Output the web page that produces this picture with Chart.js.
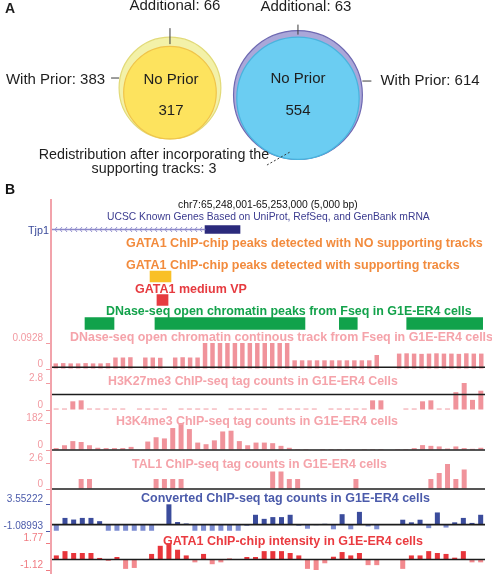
<!DOCTYPE html>
<html>
<head>
<meta charset="utf-8">
<title>GATA1 peaks: Venn counts and browser tracks</title>
<script src="https://cdn.jsdelivr.net/npm/chart.js@4.4.1/dist/chart.umd.min.js"></script>
<style>
  body { margin: 0; background: #fff; }
  #page { position: relative; width: 492px; height: 574px; overflow: hidden; }
  #page canvas { position: absolute; left: 0; }
  .lbl { position: absolute; white-space: nowrap; line-height: 1; }
</style>
</head>
<body>
<div id="page"></div>
<script>
// ---------- panel A: peak counts ----------
const withPrior = [383, 614];
const noPrior = [317, 554];
const additional = [66, 63];
const redistributed = 3;

// ---------- panel B: region chr7:65,248,001-65,253,000 ----------
const regionStart = 65248000;
const regionEnd = 65253000;
const geneName = 'Tjp1';
const tjp1Exon = [65249767, 65250171];
const gataNoSupport = [];
const gataSupport = [[65249132, 65249374]];
const gataVP = [[65249212, 65249340]];
const dnasePeaks = [[65248381, 65248716], [65249189, 65250921], [65251318, 65251525], [65252096, 65252973]];

// track values (one per bin across the region)
const dnaseVals = [0.020,0.021,0.020,0.020,0.021,0.020,0.020,0.021,
  0.041,0.041,0.042,0,0.041,0.041,0.040,0,0.041,0.042,0.041,0.041,
  0.0928,0.0928,0.0928,0.0928,0.0928,0.0928,0.0928,0.0928,0.0928,0.0928,0.0928,0.0928,
  0.031,0.031,0.031,0.031,0.031,0.031,0.031,0.031,0.031,0.031,0.031,
  0.05,0,0,
  0.055,0.056,0.055,0.054,0.055,0.056,0.055,0.055,0.054,0.056,0.055,0.055];
const h3k27Vals = [0.15,0.15,0.9,1.0,
  0.15,0.15,0.15,0.15,0.15,0,0.15,0.15,0.15,0.15,0,0.15,0.15,0.15,0.15,0.15,0,0.15,0.15,0.15,
  0.15,0.15,0,0.15,0.15,0.15,0.15,0.15,0,0.15,0.15,0.15,0.15,0.15,
  1.0,1.0,0,0,0.15,0.15,0.9,1.0,0.15,0.15,1.85,2.8,1.05,2.0];
const h3k4Vals = [13,32,60,54,32,15,13,13,13,21,
  0,57,86,78,148,182,141,50,39,65,
  125,130,60,32,50,50,46,28,15,6,
  6,0,6,6,6,6,0,6,6,6,
  0,6,6,13,33,28,24,10,24,13,
  8,15];
const tal1Vals = [0,0,0,1.0,1.0,0,0,0,0,0,
  0,0,1.0,1.0,1.0,1.0,0,0,0,0,
  0,0,0,0,0,0,1.75,1.75,1.0,1.0,
  0,0,0,0,0,0,1.0,0,0,0,
  0,0,0,0,0,1.0,1.6,2.5,1.0,1.95,
  0,0];
const convVals = [-1.05,1.16,0.88,1.16,1.16,0.6,-1.05,-1.05,-1.05,-1.05,
  -1.05,-1.05,0,3.5,0.45,0.2,-1.05,-1.05,-1.05,-1.05,
  -1.05,-1.05,-0.2,1.7,1.0,1.3,1.3,1.7,-0.2,-0.7,
  -0.1,0.15,-0.8,1.8,-0.8,2.2,-0.3,-0.8,0,0,
  0.85,0.4,0.85,-0.6,2.1,-0.5,0.4,1.16,0.3,1.7];
const gataVals = [0.44,0.9,0.7,0.7,0.7,0.17,-0.15,0.27,-1.0,-0.9,
  0,0.6,1.47,1.75,1.05,0.44,-0.3,0.6,-0.5,-0.3,
  0.1,0,0.27,0.27,0.9,0.9,0.9,0.7,0.44,-1.0,
  -1.15,-0.4,0.3,0.8,0.44,0.7,-0.6,-0.6,0,0,
  -1.0,0.44,0.44,0.9,0.7,0.6,0.2,0.9,-0.3,-0.3];

Chart.defaults.font.family = '"Liberation Sans", Arial, sans-serif';
const page = document.getElementById('page');
const mctx = document.createElement('canvas').getContext('2d');

function makeCanvas(top, height) {
  const c = document.createElement('canvas');
  c.width = 492; c.height = height;
  c.style.top = top + 'px';
  page.appendChild(c);
  return c;
}

function addLabel(text, o) {
  const weight = o.bold ? 'bold' : 'normal';
  let size = o.size;
  if (!size) {
    mctx.font = weight + ' 100px "Liberation Sans"';
    size = 100 * o.w / mctx.measureText(text).width;
  }
  const d = document.createElement('div');
  d.className = 'lbl';
  d.textContent = text;
  d.style.fontFamily = '"Liberation Sans", Arial, sans-serif';
  d.style.fontWeight = weight;
  d.style.fontSize = size.toFixed(2) + 'px';
  d.style.color = o.color;
  d.style.left = o.x + 'px';
  d.style.top = (o.y - 0.5 * size) + 'px';
  page.appendChild(d);
  return size;
}

// ---------- panel A: bubble chart ----------
const R = n => 2.6 * Math.sqrt(n);
const setY = [0.022, -0.056];        // small vertical shift of each pair
const fills = [['#f3f1a8', '#fde35e'], ['#aaa7d9', '#6bcdf2']];
const edges = [['#e2da78', '#f0c44a'], ['#6e69b2', '#48b4de']];
const bubbles = [], bFill = [], bEdge = [];
withPrior.forEach((tot, i) => {
  const ro = R(tot), ri = R(noPrior[i]);
  bubbles.push({ x: i, y: setY[i], r: ro });
  bubbles.push({ x: i, y: setY[i] - (ro - ri) / 90, r: ri });
  bFill.push(fills[i][0], fills[i][1]);
  bEdge.push(edges[i][0], edges[i][1]);
});

const vennText = {
  id: 'vennText',
  afterDatasetsDraw(chart) {
    const ctx = chart.ctx;
    const pts = chart.getDatasetMeta(0).data;
    ctx.save();
    ctx.fillStyle = '#1e1e1e';
    ctx.strokeStyle = '#3a3a3a';
    ctx.lineWidth = 1;
    ctx.textBaseline = 'middle';
    ctx.font = 'bold 14px "Liberation Sans"';
    ctx.textAlign = 'left';
    ctx.fillText('A', 5, 9);
    ctx.font = '15px "Liberation Sans"';
    const line = (x1, y1, x2, y2) => { ctx.beginPath(); ctx.moveTo(x1, y1); ctx.lineTo(x2, y2); ctx.stroke(); };

    // left pair
    let o = pts[0], r = R(withPrior[0]);
    ctx.textAlign = 'center';
    ctx.fillText('Additional: ' + additional[0], o.x + 5, o.y - r - 31);
    line(o.x, o.y - r - 9, o.x, o.y - r + 7);
    ctx.fillText('No Prior', o.x + 1, o.y - 8);
    ctx.fillText(String(noPrior[0]), o.x + 1, o.y + 23);
    ctx.textAlign = 'right';
    ctx.fillText('With Prior: ' + withPrior[0], o.x - r - 14, o.y - 8);
    line(o.x - r - 8, o.y - 10, o.x - r, o.y - 10);

    // right pair
    o = pts[2]; r = R(withPrior[1]);
    ctx.textAlign = 'center';
    ctx.fillText('Additional: ' + additional[1], o.x + 8, o.y - r - 24);
    line(o.x, o.y - r - 6, o.x, o.y - r + 4);
    ctx.fillText('No Prior', o.x, o.y - 16);
    ctx.fillText(String(noPrior[1]), o.x, o.y + 16);
    ctx.textAlign = 'left';
    ctx.fillText('With Prior: ' + withPrior[1], o.x + r + 18, o.y - 14);
    line(o.x + r, o.y - 14, o.x + r + 9, o.y - 14);

    ctx.textAlign = 'center';
    ctx.font = '14.3px "Liberation Sans"';
    ctx.fillText('Redistribution after incorporating the', o.x - 144, o.y + 60);
    ctx.fillText('supporting tracks: ' + redistributed, o.x - 144, o.y + 74);
    ctx.setLineDash([2, 2]);
    line(o.x - 31, o.y + 70, o.x - 8, o.y + 57);
    ctx.restore();
  }
};

new Chart(makeCanvas(0, 180), {
  type: 'bubble',
  data: { datasets: [{ data: bubbles, backgroundColor: bFill, borderColor: bEdge, borderWidth: 1.2, clip: false }] },
  options: {
    responsive: false, animation: false, events: [],
    layout: { padding: 0, autoPadding: false },
    plugins: { legend: { display: false }, tooltip: { enabled: false } },
    scales: {
      x: { type: 'linear', min: -1.328, max: 2.516, display: false },
      y: { type: 'linear', min: -1, max: 1, display: false }
    }
  },
  plugins: [vennText]
});

// ---------- panel B: gene and peak rows ----------
const rows = ['gene', 'noSupport', 'support', 'vp', 'dnase'];
const toBars = (list, row) => list.map(p => ({ y: row, x: p }));

const chevrons = {
  id: 'chevrons',
  afterDatasetsDraw(chart) {
    const el = chart.getDatasetMeta(0).data[0];
    if (!el) return;
    const ctx = chart.ctx;
    const x0 = Math.min(el.x, el.base), x1 = Math.max(el.x, el.base);
    ctx.save();
    ctx.strokeStyle = '#8b87c9';
    ctx.lineWidth = 0.9;
    for (let x = x0 + 3; x < x1 - 3; x += 5) {
      ctx.beginPath();
      ctx.moveTo(x + 2, el.y - 2.5);
      ctx.lineTo(x, el.y);
      ctx.lineTo(x + 2, el.y + 2.5);
      ctx.stroke();
    }
    ctx.restore();
  }
};

(function () {
  const top = 195, h = 145, areaTop = 217.75, areaBottom = 335.25;
  new Chart(makeCanvas(top, h), {
    type: 'bar',
    data: {
      labels: rows,
      datasets: [
        { data: toBars([[regionStart, tjp1Exon[0]]], 'gene'), backgroundColor: '#8b87c9', barThickness: 1, grouped: false },
        { data: toBars([tjp1Exon], 'gene'), backgroundColor: '#2b2a7c', barThickness: 8, grouped: false },
        { data: toBars(gataNoSupport, 'noSupport'), backgroundColor: '#f28b3d', barThickness: 11, grouped: false },
        { data: toBars(gataSupport, 'support'), backgroundColor: '#f9c027', barThickness: 11, grouped: false },
        { data: toBars(gataVP, 'vp'), backgroundColor: '#e63b40', barThickness: 11, grouped: false },
        { data: toBars(dnasePeaks, 'dnase'), backgroundColor: '#11a24b', barThickness: 12, grouped: false }
      ]
    },
    options: {
      indexAxis: 'y', responsive: false, animation: false, events: [],
      layout: { padding: { top: areaTop - top, bottom: top + h - areaBottom, left: 52, right: 7 } },
      plugins: { legend: { display: false }, tooltip: { enabled: false } },
      scales: {
        x: { type: 'linear', min: regionStart, max: regionEnd, display: false },
        y: { type: 'category', display: false }
      }
    },
    plugins: [chevrons]
  });
})();

// ---------- panel B: signal tracks ----------
const baseLine = {
  id: 'baseLine',
  afterDatasetsDraw(chart, args, opts) {
    const y = chart.scales.y.getPixelForValue(opts.value);
    const { left, right } = chart.chartArea;
    const ctx = chart.ctx;
    ctx.save();
    ctx.strokeStyle = '#1c1c1c';
    ctx.lineWidth = 1.6;
    ctx.beginPath();
    ctx.moveTo(left, y);
    ctx.lineTo(right, y);
    ctx.stroke();
    ctx.restore();
  }
};

function track(values, o) {
  const top = Math.floor(o.areaTop) - 14;
  const bottom = Math.ceil(o.areaBottom) + 8;
  const n = values.length;
  const labels = values.map((_, i) => regionStart + Math.round(i * (regionEnd - regionStart) / n));
  new Chart(makeCanvas(top, bottom - top), {
    type: 'bar',
    data: {
      labels,
      datasets: [{
        data: values,
        backgroundColor: ctx => (ctx.raw < 0 ? o.neg : o.pos),
        categoryPercentage: 1,
        barPercentage: o.barPct
      }]
    },
    options: {
      responsive: false, animation: false, events: [],
      layout: { padding: { top: o.areaTop - top, bottom: bottom - o.areaBottom, left: 0, right: 7 } },
      plugins: { legend: { display: false }, tooltip: { enabled: false }, baseLine: { value: o.lineAt } },
      scales: {
        x: { display: false },
        y: {
          min: o.min, max: o.max,
          afterFit: s => { s.width = 52; },
          afterBuildTicks: s => { s.ticks = [{ value: o.min }, { value: o.max }]; },
          border: { display: false },
          grid: { drawOnChartArea: false, drawTicks: true, tickLength: 6, color: o.tick },
          ticks: { color: o.tick, font: { size: 10 }, padding: 3, labelOffset: -5, callback: v => String(v) }
        }
      }
    },
    plugins: [baseLine]
  });
}

const pink = '#f0939b', pinkTick = '#f29aa1';
track(dnaseVals, { areaTop: 343, areaBottom: 370, min: 0, max: 0.0928, pos: pink, neg: pink, tick: pinkTick, barPct: 0.6, lineAt: 0.006 });
track(h3k27Vals, { areaTop: 383, areaBottom: 410.5, min: 0, max: 2.8, pos: pink, neg: pink, tick: pinkTick, barPct: 0.6, lineAt: 1.6 });
track(h3k4Vals, { areaTop: 423, areaBottom: 451, min: 0, max: 182, pos: pink, neg: pink, tick: pinkTick, barPct: 0.6, lineAt: 0 });
track(tal1Vals, { areaTop: 463, areaBottom: 490, min: 0, max: 2.6, pos: pink, neg: pink, tick: pinkTick, barPct: 0.6, lineAt: 0 });
track(convVals, { areaTop: 504, areaBottom: 532, min: -1.08993, max: 3.55222, pos: '#3b4c9c', neg: '#7d8dd1', tick: '#4b5bab', barPct: 0.58, lineAt: 0 });
track(gataVals, { areaTop: 543, areaBottom: 571, min: -1.12, max: 1.77, pos: '#e8353b', neg: '#f3898e', tick: '#f07a80', barPct: 0.58, lineAt: 0 });

// ---------- panel B: vertical rule and text ----------
const rule = document.createElement('div');
rule.style.cssText = 'position:absolute;left:50px;top:199px;width:1.6px;height:375px;background:#f2a3ab;';
page.appendChild(rule);

addLabel('B', { x: 5, y: 189, size: 14, bold: true, color: '#111' });
addLabel('chr7:65,248,001-65,253,000 (5,000 bp)', { x: 178, y: 205, w: 180, color: '#111' });
addLabel('UCSC Known Genes Based on UniProt, RefSeq, and GenBank mRNA', { x: 107, y: 217.5, w: 323, color: '#3b3b8f' });
addLabel(geneName, { x: 28, y: 230, w: 21, color: '#3a4a9a' });
addLabel('GATA1 ChIP-chip peaks detected with NO supporting tracks', { x: 126, y: 243, w: 357, bold: true, color: '#f28b3d' });
addLabel('GATA1 ChIP-chip peaks detected with supporting tracks', { x: 126, y: 265, w: 334, bold: true, color: '#f28b3d' });
addLabel('GATA1 medium VP', { x: 135, y: 289, w: 112, bold: true, color: '#e63b40' });
const gsz = addLabel('DNase-seq open chromatin peaks from Fseq in G1E-ER4 cells', { x: 106, y: 311.5, w: 366, bold: true, color: '#13a24b' });
const tc = '#f5a3aa';
addLabel('DNase-seq open chromatin continous track from Fseq in G1E-ER4 cells', { x: 70, y: 337, size: gsz, bold: true, color: tc });
addLabel('H3K27me3 ChIP-seq tag counts in G1E-ER4 Cells', { x: 108, y: 381.5, w: 290, bold: true, color: tc });
addLabel('H3K4me3 ChIP-seq tag counts in G1E-ER4 cells', { x: 116, y: 421, w: 282, bold: true, color: tc });
addLabel('TAL1 ChIP-seq tag counts in G1E-ER4 cells', { x: 132, y: 464, w: 255, bold: true, color: tc });
addLabel('Converted ChIP-seq tag counts in G1E-ER4 cells', { x: 141, y: 498, w: 289, bold: true, color: '#4b5bab' });
addLabel('GATA1 ChIP-chip intensity in G1E-ER4 cells', { x: 163, y: 541, w: 260, bold: true, color: '#ea3b40' });
</script>
</body>
</html>
